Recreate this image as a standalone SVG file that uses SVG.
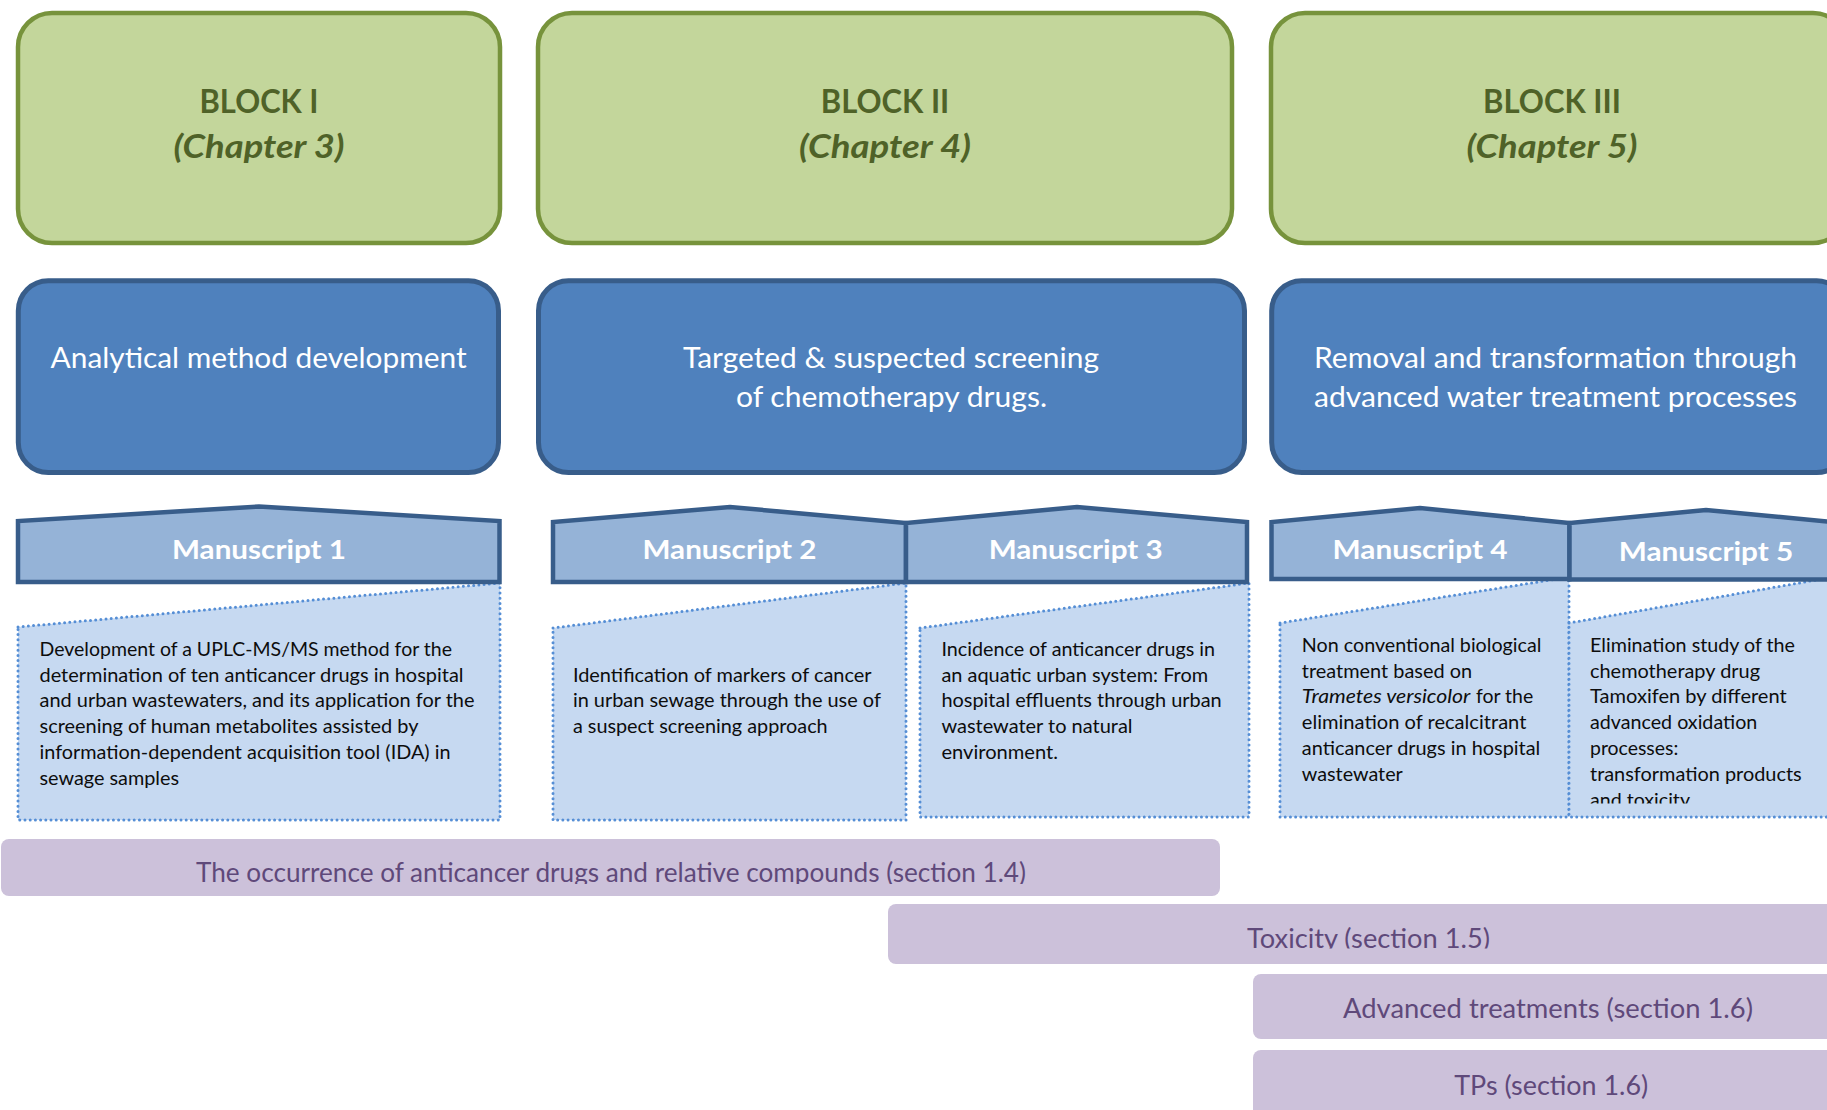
<svg xmlns="http://www.w3.org/2000/svg" width="1827" height="1110" viewBox="0 0 1827 1110">
  <style>
    text { font-family: Lato, "Open Sans", "Liberation Sans", sans-serif; }
    .block { fill: #c3d69b; stroke: #77933c; stroke-width: 4.5; }
    .block-t { fill: #4f6228; font-weight: bold; font-size: 32px; text-anchor: middle; }
    .block-c { fill: #4f6228; font-weight: bold; font-style: italic; font-size: 32px; text-anchor: middle; }
    .theme { fill: #4f81bd; stroke: #385d8a; stroke-width: 5; }
    .theme-t { fill: #ffffff; font-size: 29px; }
    .ms { fill: #95b3d7; stroke: #385d8a; stroke-width: 4.5; stroke-linejoin: miter; }
    .ms-t { fill: #ffffff; font-weight: bold; font-size: 27.5px; text-anchor: middle; }
    .desc { fill: #c6d9f1; stroke: #558ed5; stroke-width: 3; stroke-dasharray: 0 5.2; stroke-linecap: round; }
    .desc-t { fill: #0d0d0d; font-size: 18.3px; }
    .sec { fill: #ccc1da; }
    .sec-t { fill: #5f497a; font-size: 27px; }
  </style>
  <defs>
    <clipPath id="clip-ms5"><rect x="1560" y="580" width="280" height="223.5"/></clipPath>
    <clipPath id="clip-sec14"><rect x="0" y="835" width="1230" height="49"/></clipPath>
    <clipPath id="clip-sec15"><rect x="880" y="900" width="960" height="48.5"/></clipPath>
  </defs>

  <!-- chapter blocks -->
  <g id="block-1">
    <rect class="block" x="18" y="13" width="482" height="230" rx="34"/>
    <text class="block-t" x="259" y="113.3" textLength="119" lengthAdjust="spacingAndGlyphs">BLOCK I</text>
    <text class="block-c" x="259" y="158" textLength="171" lengthAdjust="spacingAndGlyphs">(Chapter 3)</text>
  </g>
  <g id="block-2">
    <rect class="block" x="538" y="13" width="694" height="230" rx="34"/>
    <text class="block-t" x="885" y="113.3" textLength="128.6" lengthAdjust="spacingAndGlyphs">BLOCK II</text>
    <text class="block-c" x="885" y="158" textLength="172" lengthAdjust="spacingAndGlyphs">(Chapter 4)</text>
  </g>
  <g id="block-3">
    <rect class="block" x="1271" y="13" width="576" height="230" rx="34"/>
    <text class="block-t" x="1552" y="113.3" textLength="138" lengthAdjust="spacingAndGlyphs">BLOCK III</text>
    <text class="block-c" x="1552" y="158" textLength="171" lengthAdjust="spacingAndGlyphs">(Chapter 5)</text>
  </g>

  <!-- research themes -->
  <g id="theme-1">
    <rect class="theme" x="18.3" y="280.8" width="480.2" height="191.7" rx="30"/>
    <text class="theme-t" x="50.6" y="368" textLength="416" lengthAdjust="spacingAndGlyphs">Analytical method development</text>
  </g>
  <g id="theme-2">
    <rect class="theme" x="538.5" y="280.8" width="706" height="191.7" rx="30"/>
    <text class="theme-t" x="683" y="368" textLength="416" lengthAdjust="spacingAndGlyphs">Targeted &amp; suspected screening</text>
    <text class="theme-t" x="736" y="407" textLength="311" lengthAdjust="spacingAndGlyphs">of chemotherapy drugs.</text>
  </g>
  <g id="theme-3">
    <rect class="theme" x="1271.7" y="280.8" width="575" height="191.7" rx="30"/>
    <text class="theme-t" x="1314" y="368" textLength="483" lengthAdjust="spacingAndGlyphs">Removal and transformation through</text>
    <text class="theme-t" x="1314" y="407" textLength="483" lengthAdjust="spacingAndGlyphs">advanced water treatment processes</text>
  </g>

  <!-- manuscripts: header tab + summary box -->
  <g id="manuscript-1">
    <polygon class="desc" points="18,627 500,583 500,820 18,820"/>
    <polygon class="ms" points="18,582 18,521 259,506.5 499.5,521 499.5,582"/>
    <text class="ms-t" x="259" y="559" textLength="174" lengthAdjust="spacingAndGlyphs">Manuscript 1</text>
    <g class="desc-t">
      <text x="39.5" y="655.7" textLength="412.5" lengthAdjust="spacingAndGlyphs">Development of a UPLC-MS/MS method for the</text>
      <text x="39.5" y="681.7" textLength="424" lengthAdjust="spacingAndGlyphs">determination of ten anticancer drugs in hospital</text>
      <text x="39.5" y="707.3" textLength="435" lengthAdjust="spacingAndGlyphs">and urban wastewaters, and its application for the</text>
      <text x="39.5" y="733.3" textLength="379" lengthAdjust="spacingAndGlyphs">screening of human metabolites assisted by</text>
      <text x="39.5" y="759.3" textLength="411" lengthAdjust="spacingAndGlyphs">information-dependent acquisition tool (IDA) in</text>
      <text x="39.5" y="785" textLength="139.6" lengthAdjust="spacingAndGlyphs">sewage samples</text>
    </g>
  </g>

  <g id="manuscript-2">
    <polygon class="desc" points="553,628 906,583 906,820 553,820"/>
    <polygon class="ms" points="553,582 553,522 730,507 906,523 906,582"/>
    <text class="ms-t" x="729.5" y="559" textLength="174" lengthAdjust="spacingAndGlyphs">Manuscript 2</text>
    <g class="desc-t">
      <text x="572.9" y="681.7" textLength="298.7" lengthAdjust="spacingAndGlyphs">Identification of markers of cancer</text>
      <text x="572.9" y="707.3" textLength="308" lengthAdjust="spacingAndGlyphs">in urban sewage through the use of</text>
      <text x="572.9" y="733.3" textLength="254.8" lengthAdjust="spacingAndGlyphs">a suspect screening approach</text>
    </g>
  </g>

  <g id="manuscript-3">
    <polygon class="desc" points="920,628 1249,583 1249,817 920,817"/>
    <polygon class="ms" points="906,582 906,523 1077,507 1247,522 1247,582"/>
    <text class="ms-t" x="1075.7" y="559" textLength="174" lengthAdjust="spacingAndGlyphs">Manuscript 3</text>
    <g class="desc-t">
      <text x="941.4" y="655.7" textLength="273.7" lengthAdjust="spacingAndGlyphs">Incidence of anticancer drugs in</text>
      <text x="941.4" y="681.7" textLength="266.7" lengthAdjust="spacingAndGlyphs">an aquatic urban system: From</text>
      <text x="941.4" y="707.3" textLength="280.3" lengthAdjust="spacingAndGlyphs">hospital effluents through urban</text>
      <text x="941.4" y="733.3" textLength="191.2" lengthAdjust="spacingAndGlyphs">wastewater to natural</text>
      <text x="941.4" y="759.3" textLength="116.6" lengthAdjust="spacingAndGlyphs">environment.</text>
    </g>
  </g>

  <g id="manuscript-4">
    <polygon class="desc" points="1280,623 1569,577 1569,817 1280,817"/>
    <polygon class="ms" points="1271.5,579 1271.5,522 1420,508 1569.5,523 1569.5,579"/>
    <text class="ms-t" x="1420" y="558.7" textLength="175" lengthAdjust="spacingAndGlyphs">Manuscript 4</text>
    <g class="desc-t">
      <text x="1301.8" y="651.7" textLength="239.6" lengthAdjust="spacingAndGlyphs">Non conventional biological</text>
      <text x="1301.8" y="677.7" textLength="170.3" lengthAdjust="spacingAndGlyphs">treatment based on</text>
      <text x="1301.8" y="703.3" textLength="168.5" lengthAdjust="spacingAndGlyphs" font-style="italic">Trametes versicolor</text>
      <text x="1475.9" y="703.3" textLength="57.3" lengthAdjust="spacingAndGlyphs">for the</text>
      <text x="1301.8" y="729.3" textLength="224.6" lengthAdjust="spacingAndGlyphs">elimination of recalcitrant</text>
      <text x="1301.8" y="755" textLength="238.5" lengthAdjust="spacingAndGlyphs">anticancer drugs in hospital</text>
      <text x="1301.8" y="781" textLength="101" lengthAdjust="spacingAndGlyphs">wastewater</text>
    </g>
  </g>

  <g id="manuscript-5">
    <polygon class="desc" points="1569,623 1845,575 1845,817 1569,817"/>
    <polygon class="ms" points="1569.5,579.5 1569.5,523 1706,510 1843,523 1843,579.5"/>
    <text class="ms-t" x="1706" y="560.7" textLength="174.5" lengthAdjust="spacingAndGlyphs">Manuscript 5</text>
    <g class="desc-t" clip-path="url(#clip-ms5)">
      <text x="1590" y="651.7" textLength="205" lengthAdjust="spacingAndGlyphs">Elimination study of the</text>
      <text x="1590" y="677.7" textLength="170" lengthAdjust="spacingAndGlyphs">chemotherapy drug</text>
      <text x="1590" y="703.3" textLength="196.7" lengthAdjust="spacingAndGlyphs">Tamoxifen by different</text>
      <text x="1590" y="729.3" textLength="167.3" lengthAdjust="spacingAndGlyphs">advanced oxidation</text>
      <text x="1590" y="755" textLength="88.3" lengthAdjust="spacingAndGlyphs">processes:</text>
      <text x="1590" y="781" textLength="211.7" lengthAdjust="spacingAndGlyphs">transformation products</text>
      <text x="1590" y="806.7" textLength="100" lengthAdjust="spacingAndGlyphs">and toxicity</text>
    </g>
  </g>

  <!-- introduction sections spanning the manuscripts -->
  <g id="section-1-4">
    <rect class="sec" x="1" y="839" width="1219" height="57" rx="8"/>
    <text class="sec-t" x="196" y="881.5" textLength="830" lengthAdjust="spacingAndGlyphs" clip-path="url(#clip-sec14)">The occurrence of anticancer drugs and relative compounds (section 1.4)</text>
  </g>
  <g id="section-1-5">
    <rect class="sec" x="888" y="904" width="960" height="60" rx="8"/>
    <text class="sec-t" x="1247" y="947.5" textLength="243" lengthAdjust="spacingAndGlyphs" clip-path="url(#clip-sec15)">Toxicity (section 1.5)</text>
  </g>
  <g id="section-1-6a">
    <rect class="sec" x="1253" y="974" width="595" height="65" rx="8"/>
    <text class="sec-t" x="1343" y="1017.5" textLength="410" lengthAdjust="spacingAndGlyphs">Advanced treatments (section 1.6)</text>
  </g>
  <g id="section-1-6b">
    <rect class="sec" x="1253" y="1050" width="595" height="80" rx="8"/>
    <text class="sec-t" x="1454.2" y="1094.5" textLength="194" lengthAdjust="spacingAndGlyphs">TPs (section 1.6)</text>
  </g>

  <!-- no explicit connectors in this layout -->
  <g id="connectors"/>
</svg>
